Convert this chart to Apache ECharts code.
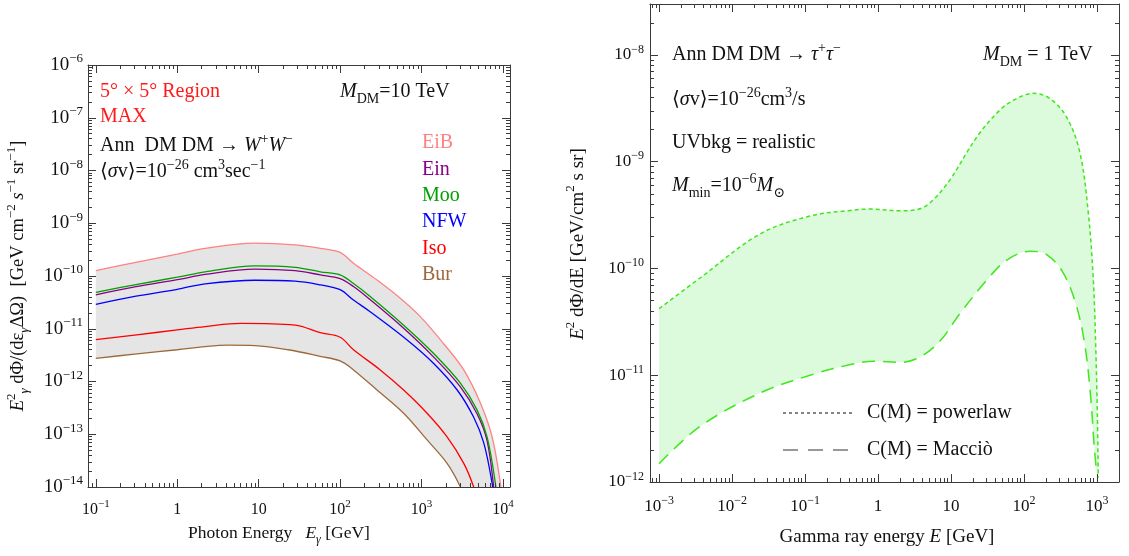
<!DOCTYPE html>
<html>
<head>
<meta charset="utf-8">
<script src="https://cdn.jsdelivr.net/npm/echarts@6/dist/echarts.min.js"></script>
<style>
  html, body { margin: 0; padding: 0; background: #fff; }
  #chart { width: 1129px; height: 556px; }
</style>
</head>
<body>
<div id="chart"></div>
<script>
const SERIF = '"Liberation Serif", "DejaVu Serif", serif';

// left panel: 5x5 deg region, DM DM -> W+W-, M_DM = 10 TeV   [E (GeV), E^2 dPhi/dE]
const eib = [[0.1,1.26e-10],[0.3,1.8e-10],[1,2.6e-10],[2.2,3.35e-10],[9,4.2e-10],[28,3.9e-10],[57,3.35e-10],[100,2.8e-10],[146,1.74e-10],[284,8.4e-11],[548,3.8e-11],[966,1.7e-11],[1870,5.2e-12],[3300,1.66e-12],[5280,3.9e-13],[7360,8.9e-14],[9300,1.17e-14],[10000,4e-15]];
const ein = [[0.1,4.4e-11],[0.3,6.2e-11],[1,8.5e-11],[2.2,1.07e-10],[9,1.35e-10],[28,1.26e-10],[57,1.05e-10],[100,8.9e-11],[146,6.3e-11],[234,3.55e-11],[603,1.02e-11],[1410,2.9e-12],[3000,7.9e-13],[4800,2.45e-13],[6380,7.6e-14],[7700,1e-14],[8000,5e-15]];
const moo = [[0.1,4.9e-11],[0.3,6.8e-11],[1,9.5e-11],[2.2,1.2e-10],[9,1.55e-10],[28,1.46e-10],[57,1.2e-10],[100,1.05e-10],[146,7.2e-11],[234,4.1e-11],[603,1.17e-11],[1410,3.4e-12],[3000,9.3e-13],[4800,2.9e-13],[6380,8.9e-14],[8070,1.17e-14],[8300,6e-15]];
const nfw = [[0.1,2.9e-11],[0.3,4.1e-11],[1,5.6e-11],[2.2,7.1e-11],[9,8.3e-11],[28,8.0e-11],[57,6.8e-11],[100,5.5e-11],[146,3.5e-11],[234,2.1e-11],[660,6.2e-12],[1410,2.2e-12],[2740,6.9e-13],[4370,2.1e-13],[5820,6.8e-14],[7360,1.17e-14],[7600,6e-15]];
const iso = [[0.1,6.2e-12],[0.3,7.6e-12],[1,9.5e-12],[2.2,1.1e-11],[6,1.26e-11],[28,1.17e-11],[57,8.4e-12],[100,6.9e-12],[146,4.0e-12],[311,1.66e-12],[603,6.9e-13],[1170,2.5e-13],[2060,8.9e-14],[3300,2.8e-14],[4370,1e-14],[4700,6e-15]];
const bur = [[0.1,2.75e-12],[0.3,3.3e-12],[1,4.0e-12],[2.2,4.6e-12],[4.2,4.9e-12],[9,4.8e-12],[23,4.0e-12],[57,3.0e-12],[100,2.45e-12],[146,1.66e-12],[284,6.9e-13],[603,2.5e-13],[1170,7.8e-14],[2060,2.8e-14],[3000,1e-14],[3300,6e-15]];

const profileNames = ['EiB', 'Ein', 'Moo', 'NFW', 'Iso', 'Bur'];
const profileData = [eib, ein, moo, nfw, iso, bur];
const profileColors = ['#ff8282', '#880088', '#00a000', '#0000ff', '#ff0000', '#9c6a3a'];

// right panel: DM DM -> tau+tau-, M_DM = 1 TeV
const powerlaw = [[0.001,4.2e-11],[0.0036,8.1e-11],[0.024,2.1e-10],[0.117,3.1e-10],[0.42,3.5e-10],[0.8,3.6e-10],[2.0,3.47e-10],[3.76,3.63e-10],[5.7,4.4e-10],[9.7,6.8e-10],[22.5,1.7e-9],[46.8,3.05e-9],[79,3.9e-9],[134,4.37e-9],[227,3.9e-9],[385,2.6e-9],[585,1.2e-9],[760,3.3e-10],[890,7.8e-11],[960,1.86e-11],[1010,4.4e-12],[1040,1.1e-12]];
const maccio = [[0.001,1.48e-12],[0.0036,3.3e-12],[0.024,6.8e-12],[0.117,1.0e-11],[0.42,1.26e-11],[0.87,1.35e-11],[2.0,1.32e-11],[3.76,1.48e-11],[7.1,2.1e-11],[13.3,3.8e-11],[31,7.8e-11],[58,1.2e-10],[121,1.45e-10],[204,1.35e-10],[347,9.0e-11],[525,4.4e-11],[685,1.86e-11],[818,6.3e-12],[918,2.1e-12],[990,1.2e-12]];

// axis ranges
const leftX = [0.0802, 12200];
const leftY = [1e-14, 1e-6];
const rightX = [0.00075, 2000];
const rightY = [1e-12, 3.0e-8];

function decades(lo, hi) {
  const major = [], minor = [];
  for (let n = Math.floor(Math.log10(lo)); n <= Math.ceil(Math.log10(hi)); n++) {
    const p = Math.pow(10, n);
    if (p >= lo && p <= hi) major.push(p);
    for (let k = 2; k <= 9; k++) {
      const v = parseFloat((k * p).toPrecision(6));
      if (v >= lo && v <= hi) minor.push(v);
    }
  }
  return { major, minor };
}

function powLabel(v) {
  const n = Math.round(Math.log10(v));
  if (n === 0) return '{b|1}';
  if (n === 1) return '{b|10}';
  return '{b|10}{s|' + (n < 0 ? '\u2212' : '') + Math.abs(n) + '}';
}

function tickRich(size) {
  return {
    b: { fontFamily: SERIF, fontSize: size, color: '#111', lineHeight: size + 6 },
    s: { fontFamily: SERIF, fontSize: Math.round(size * 0.68), color: '#111', lineHeight: Math.round(size * 0.7), verticalAlign: 'top' }
  };
}

// one side of the frame: major or minor ticks, labels only on bottom/left major
function frameAxis(grid, pos, range, values, len, label) {
  return {
    type: 'log', logBase: 10, gridIndex: grid, position: pos,
    min: range[0], max: range[1], z: 10, silent: true,
    axisLine: { show: len > 5, onZero: false, lineStyle: { color: '#3a3a3a', width: 1 } },
    axisTick: { show: true, inside: true, length: len, customValues: values, lineStyle: { color: '#3a3a3a', width: 1 } },
    axisLabel: label ? Object.assign({ show: true, customValues: values, formatter: powLabel }, label) : { show: false },
    splitLine: { show: false }, minorTick: { show: false }, minorSplitLine: { show: false }
  };
}

function frame(grid, dir, range, labelSize, margin) {
  const t = decades(range[0], range[1]);
  const p1 = dir === 'x' ? 'bottom' : 'left';
  const p2 = dir === 'x' ? 'top' : 'right';
  return [
    frameAxis(grid, p1, range, t.major, 8, { fontSize: labelSize, margin, rich: tickRich(labelSize) }),
    frameAxis(grid, p1, range, t.minor, 4, null),
    frameAxis(grid, p2, range, t.major, 8, null),
    frameAxis(grid, p2, range, t.minor, 4, null)
  ];
}

const xAxes = frame(0, 'x', leftX, 16, 12).concat(frame(1, 'x', rightX, 17, 13));
const yAxes = frame(0, 'y', leftY, 19, 5).concat(frame(1, 'y', rightY, 17, 6));

function area(data, color, ai) {
  return {
    type: 'line', data, xAxisIndex: ai, yAxisIndex: ai, smooth: 0.35,
    symbol: 'none', silent: true, z: 1,
    lineStyle: { opacity: 0, width: 0 }, areaStyle: { color, opacity: 1 }
  };
}
function curve(name, data, color, ai, type, width) {
  return {
    type: 'line', name, data, xAxisIndex: ai, yAxisIndex: ai, smooth: 0.35,
    symbol: 'none', z: 3, lineStyle: { color, width, type }
  };
}

const series = [
  area(eib, '#e5e5e5', 0),
  area(bur, '#ffffff', 0),
  area(powerlaw, '#dcfadc', 4),
  area(maccio, '#ffffff', 4)
];
profileNames.forEach((n, i) => series.push(curve(n, profileData[i], profileColors[i], 0, 'solid', 1.3)));
series.push(curve('C(M) = powerlaw', powerlaw, '#3ee81a', 4, [4, 3], 1.5));
series.push(curve('C(M) = Macciò', maccio, '#3ee81a', 4, [13, 8], 1.5));

// rich text styles for annotations
function rich(size, color) {
  const c = color || '#111';
  return {
    t: { fontFamily: SERIF, fontSize: size, fill: c, lineHeight: size + 8 },
    i: { fontFamily: SERIF, fontSize: size, fill: c, fontStyle: 'italic', lineHeight: size + 8 },
    u: { fontFamily: SERIF, fontSize: Math.round(size * 0.68), fill: c, lineHeight: Math.round(size * 0.7), verticalAlign: 'top' },
    d: { fontFamily: SERIF, fontSize: Math.round(size * 0.68), fill: c, lineHeight: Math.round(size * 0.7), verticalAlign: 'bottom' },
    di: { fontFamily: SERIF, fontSize: Math.round(size * 0.68), fill: c, fontStyle: 'italic', lineHeight: Math.round(size * 0.7), verticalAlign: 'bottom' }
  };
}
function label(x, y, text, size, color, opts) {
  const o = opts || {};
  return {
    type: 'text', x, y, rotation: o.rotation || 0, z: 20, silent: true,
    style: {
      text, rich: rich(size, color), fill: color || '#111',
      font: size + 'px ' + SERIF,
      align: o.align || 'left', verticalAlign: 'middle'
    }
  };
}

const texts = [
  // left panel
  label(100, 92, '{t|5° × 5° Region}', 20, '#ff1a1a'),
  label(100, 117, '{t|MAX}', 20, '#ff1a1a'),
  label(100, 146, '{t|Ann  DM DM → }{i|W}{u|+}{i|W}{u|\u2212}', 20),
  label(100, 172, '{t|⟨}{i|σ}{t|v⟩=10}{u|\u221226}{t| cm}{u|3}{t|sec}{u|\u22121}', 20),
  label(340, 92, '{i|M}{d|DM}{t|=10 TeV}', 20),
  label(279, 533, '{t|Photon Energy   }{i|E}{di|γ}{t| [GeV]}', 17.5, '#111', { align: 'center' }),
  label(18, 276, '{i|E}{u|2}{di|γ}{t| dΦ/(dε}{di|γ}{t|ΔΩ)  [GeV cm}{u|\u22122}{t| }{i|s}{u|\u22121}{t| sr}{u|\u22121}{t|]}', 18.5, '#111', { rotation: Math.PI / 2, align: 'center' }),
  // right panel
  label(672, 55, '{t|Ann DM DM → }{i|τ}{u|+}{i|τ}{u|\u2212}', 20),
  label(672, 100, '{t|⟨}{i|σ}{t|v⟩=10}{u|\u221226}{t|cm}{u|3}{t|/s}', 20),
  label(672, 143, '{t|UVbkg = realistic}', 20),
  label(672, 186, '{i|M}{d|min}{t|=10}{u|\u22126}{i|M}{d|⊙}', 20),
  label(983, 55, '{i|M}{d|DM}{t| = 1 TeV}', 20),
  label(867, 413, '{t|C(M) = powerlaw}', 20),
  label(867, 450, '{t|C(M) = Macciò}', 20),
  label(887, 537, '{t|Gamma ray energy }{i|E}{t| [GeV]}', 19, '#111', { align: 'center' }),
  label(578, 244, '{i|E}{u|2}{t| dΦ/dE [GeV/cm}{u|2}{t| s sr]}', 19, '#111', { rotation: Math.PI / 2, align: 'center' }),
  // legend keys for the right panel
  { type: 'line', z: 20, silent: true, shape: { x1: 783, y1: 413, x2: 853, y2: 413 }, style: { stroke: '#333', lineWidth: 1.2, lineDash: [3, 3] } },
  { type: 'line', z: 20, silent: true, shape: { x1: 783, y1: 450, x2: 850, y2: 450 }, style: { stroke: '#333', lineWidth: 1.2, lineDash: [15, 10] } }
];
profileNames.forEach((n, i) => texts.push(label(422, 143 + i * 26.4, '{t|' + n + '}', 20, profileColors[i])));

const chart = echarts.init(document.getElementById('chart'), null, { renderer: 'canvas' });
chart.setOption({
  animation: false,
  backgroundColor: '#ffffff',
  grid: [
    { left: 88, top: 65, width: 422, height: 422, containLabel: false, outerBoundsMode: 'none' },
    { left: 650, top: 4, width: 469, height: 478, containLabel: false, outerBoundsMode: 'none' }
  ],
  xAxis: xAxes,
  yAxis: yAxes,
  series,
  graphic: texts
});
</script>
</body>
</html>
